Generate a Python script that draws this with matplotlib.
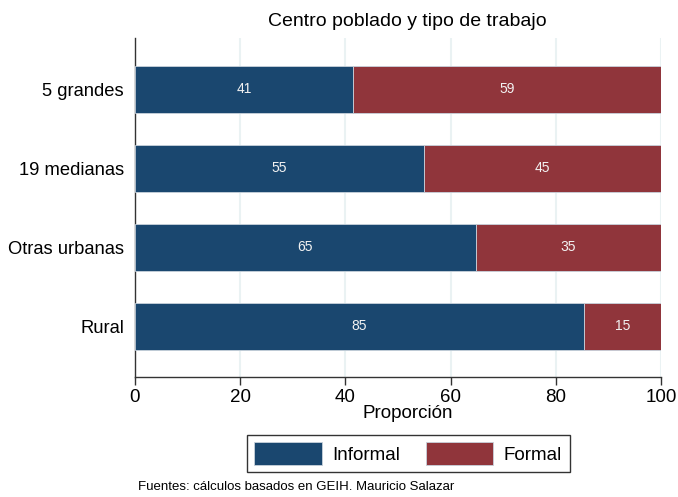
import matplotlib
matplotlib.use("Agg")
import matplotlib.pyplot as plt
from matplotlib.patches import Patch

plt.rcParams['font.family'] = ['Liberation Sans', 'DejaVu Sans']

categories = ["5 grandes", "19 medianas", "Otras urbanas", "Rural"]
informal = [41.4, 54.9, 64.8, 85.4]
formal = [58.6, 45.1, 35.2, 14.6]
series_names = ["Informal", "Formal"]
xticks = [0, 20, 40, 60, 80, 100]

navy = "#1a476f"
maroon = "#90353b"

fig = plt.figure(figsize=(6.78, 4.97), dpi=100)
ax = fig.add_axes([135/678, 1-377/497, (661-135)/678, (377-38)/497])

ypos = list(range(len(categories)))
h = 0.595
ax.barh(ypos, informal, height=h, color=navy, edgecolor="#c8d2dc", linewidth=0.6, zorder=3)
ax.barh(ypos, formal, left=informal, height=h, color=maroon, edgecolor="#c8d2dc", linewidth=0.6, zorder=3)

for i in range(len(categories)):
    ax.text(informal[i]/2, ypos[i], f"{round(informal[i]):.0f}", ha="center", va="center",
            color="#f2f2f2", fontsize=10, zorder=4)
    ax.text(informal[i] + formal[i]/2, ypos[i], f"{round(formal[i]):.0f}", ha="center", va="center",
            color="#f2f2f2", fontsize=10, zorder=4)

ax.set_xlim(0, 100)
ax.set_ylim(3.64, -0.652)
ax.set_yticks(ypos)
ax.set_yticklabels(categories, fontsize=13.2)
ax.tick_params(axis='y', length=0, pad=8)
ax.set_xticks(xticks)
ax.set_xticklabels([str(t) for t in xticks], fontsize=13.5)
ax.tick_params(axis='x', length=6, width=1, color="#333333", pad=3)
ax.xaxis.grid(True, color="#eaf2f3", linewidth=1.5, zorder=0)
ax.set_axisbelow(True)
for s in ["top", "right"]:
    ax.spines[s].set_visible(False)
for s in ["left", "bottom"]:
    ax.spines[s].set_color("#333333")
    ax.spines[s].set_linewidth(1.0)

fig.text(408/678, 1-414/497, "Proporción", ha="center", va="center", fontsize=13.5)
fig.text(407/678, 1-22/497, "Centro poblado y tipo de trabajo", ha="center", va="center", fontsize=14)

handles = [Patch(facecolor=navy, edgecolor="#c8d2dc", linewidth=0.6),
           Patch(facecolor=maroon, edgecolor="#c8d2dc", linewidth=0.6)]
leg = fig.legend(handles, series_names, loc="center", bbox_to_anchor=(408/678, 1-453.5/497),
                 ncol=2, fontsize=13.5, handlelength=3.6, handleheight=1.45, columnspacing=1.4,
                 handletextpad=0.55, borderpad=0.4, borderaxespad=0, fancybox=False,
                 edgecolor="#333333", framealpha=1)
leg.get_frame().set_linewidth(1.0)

fig.text(138/678, 1-487/497, "Fuentes: cálculos basados en GEIH. Mauricio Salazar", ha="left", va="center", fontsize=9.5)

fig.savefig("out.png", dpi=100)
